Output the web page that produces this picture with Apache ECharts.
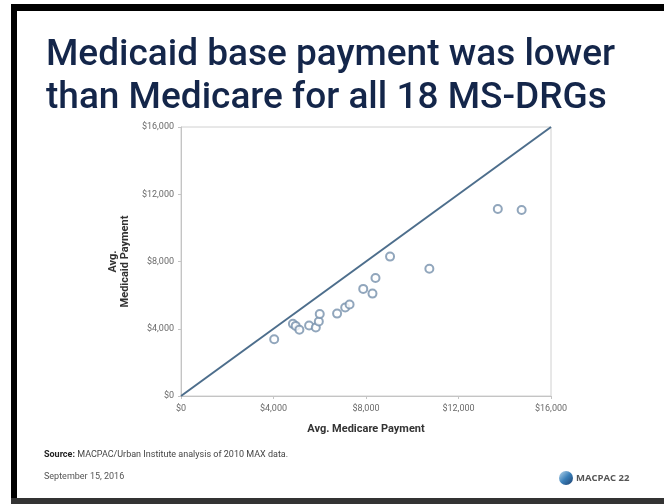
<!DOCTYPE html>
<html>
<head>
<meta charset="utf-8">
<script src="https://cdn.jsdelivr.net/npm/echarts@6/dist/echarts.min.js"></script>
<style>
html,body{margin:0;padding:0;background:#fff;}
#chart{width:664px;height:504px;}
</style>
</head>
<body>
<div id="chart"></div>
<script>
// Data
var medicarePayment = [4030, 4840, 4960, 5120, 5540, 5830, 5960, 6000, 6750, 7100, 7290, 7880, 8280, 8410, 9040, 10740, 13700, 14730];
var medicaidPayment = [3380, 4290, 4170, 3940, 4190, 4070, 4430, 4880, 4900, 5260, 5440, 6370, 6090, 7020, 8290, 7570, 11120, 11060];
var parityLine = [[0, 0], [16000, 16000]];
var tickValues = [0, 4000, 8000, 12000, 16000];
var titleLines = ['Medicaid base payment was lower', 'than Medicare for all 18 MS-DRGs'];

var points = medicarePayment.map(function (x, i) { return [x, medicaidPayment[i]]; });
function fmt(v) { return '$' + v.toLocaleString('en-US'); }

var chart = echarts.init(document.getElementById('chart'), null, { renderer: 'canvas' });
var axisCommon = {
  type: 'value', min: tickValues[0], max: tickValues[tickValues.length - 1], interval: 4000,
  axisLine: { show: true, lineStyle: { color: '#c4c4c4', width: 1 } },
  axisTick: { show: true, length: 3, lineStyle: { color: '#c4c4c4' } },
  splitLine: { show: false },
  axisLabel: { formatter: fmt, color: '#6a6a6a', fontSize: 9, fontFamily: 'Roboto' },
  nameTextStyle: { color: '#333', fontSize: 11, fontWeight: 'bold', fontFamily: 'Roboto' }
};
chart.setOption({
  backgroundColor: '#fff',
  animation: false,
  title: {
    text: titleLines.join('\n'),
    left: 41, top: 29,
    textStyle: { color: '#14264a', fontSize: 37, fontWeight: 500, fontFamily: 'Roboto', lineHeight: 43 }
  },
  grid: { left: 181, right: 113, top: 127, bottom: 108, show: true, borderColor: '#d0d0d0', borderWidth: 1 },
  xAxis: Object.assign({}, axisCommon, {
    name: 'Avg. Medicare Payment', nameLocation: 'middle', nameGap: 28,
    axisLabel: Object.assign({}, axisCommon.axisLabel, { margin: 8 })
  }),
  yAxis: Object.assign({}, axisCommon, {
    name: 'Avg.\nMedicaid Payment', nameLocation: 'middle', nameGap: 48, nameRotate: 90,
    nameTextStyle: Object.assign({}, axisCommon.nameTextStyle, { lineHeight: 12 }),
    axisLabel: Object.assign({}, axisCommon.axisLabel, { margin: 7 })
  }),
  series: [
    {
      type: 'line', data: parityLine, symbol: 'none', silent: true,
      lineStyle: { color: '#4d6e8c', width: 2 }
    },
    {
      type: 'scatter', data: points, symbol: 'emptyCircle', symbolSize: 8,
      itemStyle: { color: '#7590ab', borderColor: '#7590ab', borderWidth: 1.2 }
    }
  ],
  graphic: [
    { type: 'rect', shape: { x: 11, y: 4, width: 653, height: 7 }, style: { fill: '#000' } },
    { type: 'rect', shape: { x: 11, y: 4, width: 6, height: 495 }, style: { fill: '#000' } },
    { type: 'rect', shape: { x: 11, y: 498, width: 653, height: 6 }, style: { fill: '#333' } },
    {
      type: 'text', left: 44, top: 450,
      style: {
        text: '{b|Source:} MACPAC/Urban Institute analysis of 2010 MAX data.',
        fill: '#444', fontSize: 9, fontFamily: 'Roboto',
        rich: { b: { fontWeight: 'bold', fill: '#222', fontSize: 9, fontFamily: 'Roboto' } }
      }
    },
    {
      type: 'text', left: 44, top: 472,
      style: { text: 'September 15, 2016', fill: '#555', fontSize: 9, fontFamily: 'Roboto' }
    },
    {
      type: 'circle', shape: { cx: 566, cy: 478, r: 7 },
      style: {
        fill: new echarts.graphic.LinearGradient(0, 0, 1, 1, [
          { offset: 0, color: '#bcd9ee' }, { offset: 0.5, color: '#3a7fb8' }, { offset: 1, color: '#1d3f6e' }
        ])
      }
    },
    {
      type: 'text', left: 576, top: 473,
      style: { text: 'MACPAC 22', fill: '#555', fontSize: 9.5, fontFamily: 'Open Sans', fontWeight: 'bold' }
    }
  ]
});
</script>
</body>
</html>
